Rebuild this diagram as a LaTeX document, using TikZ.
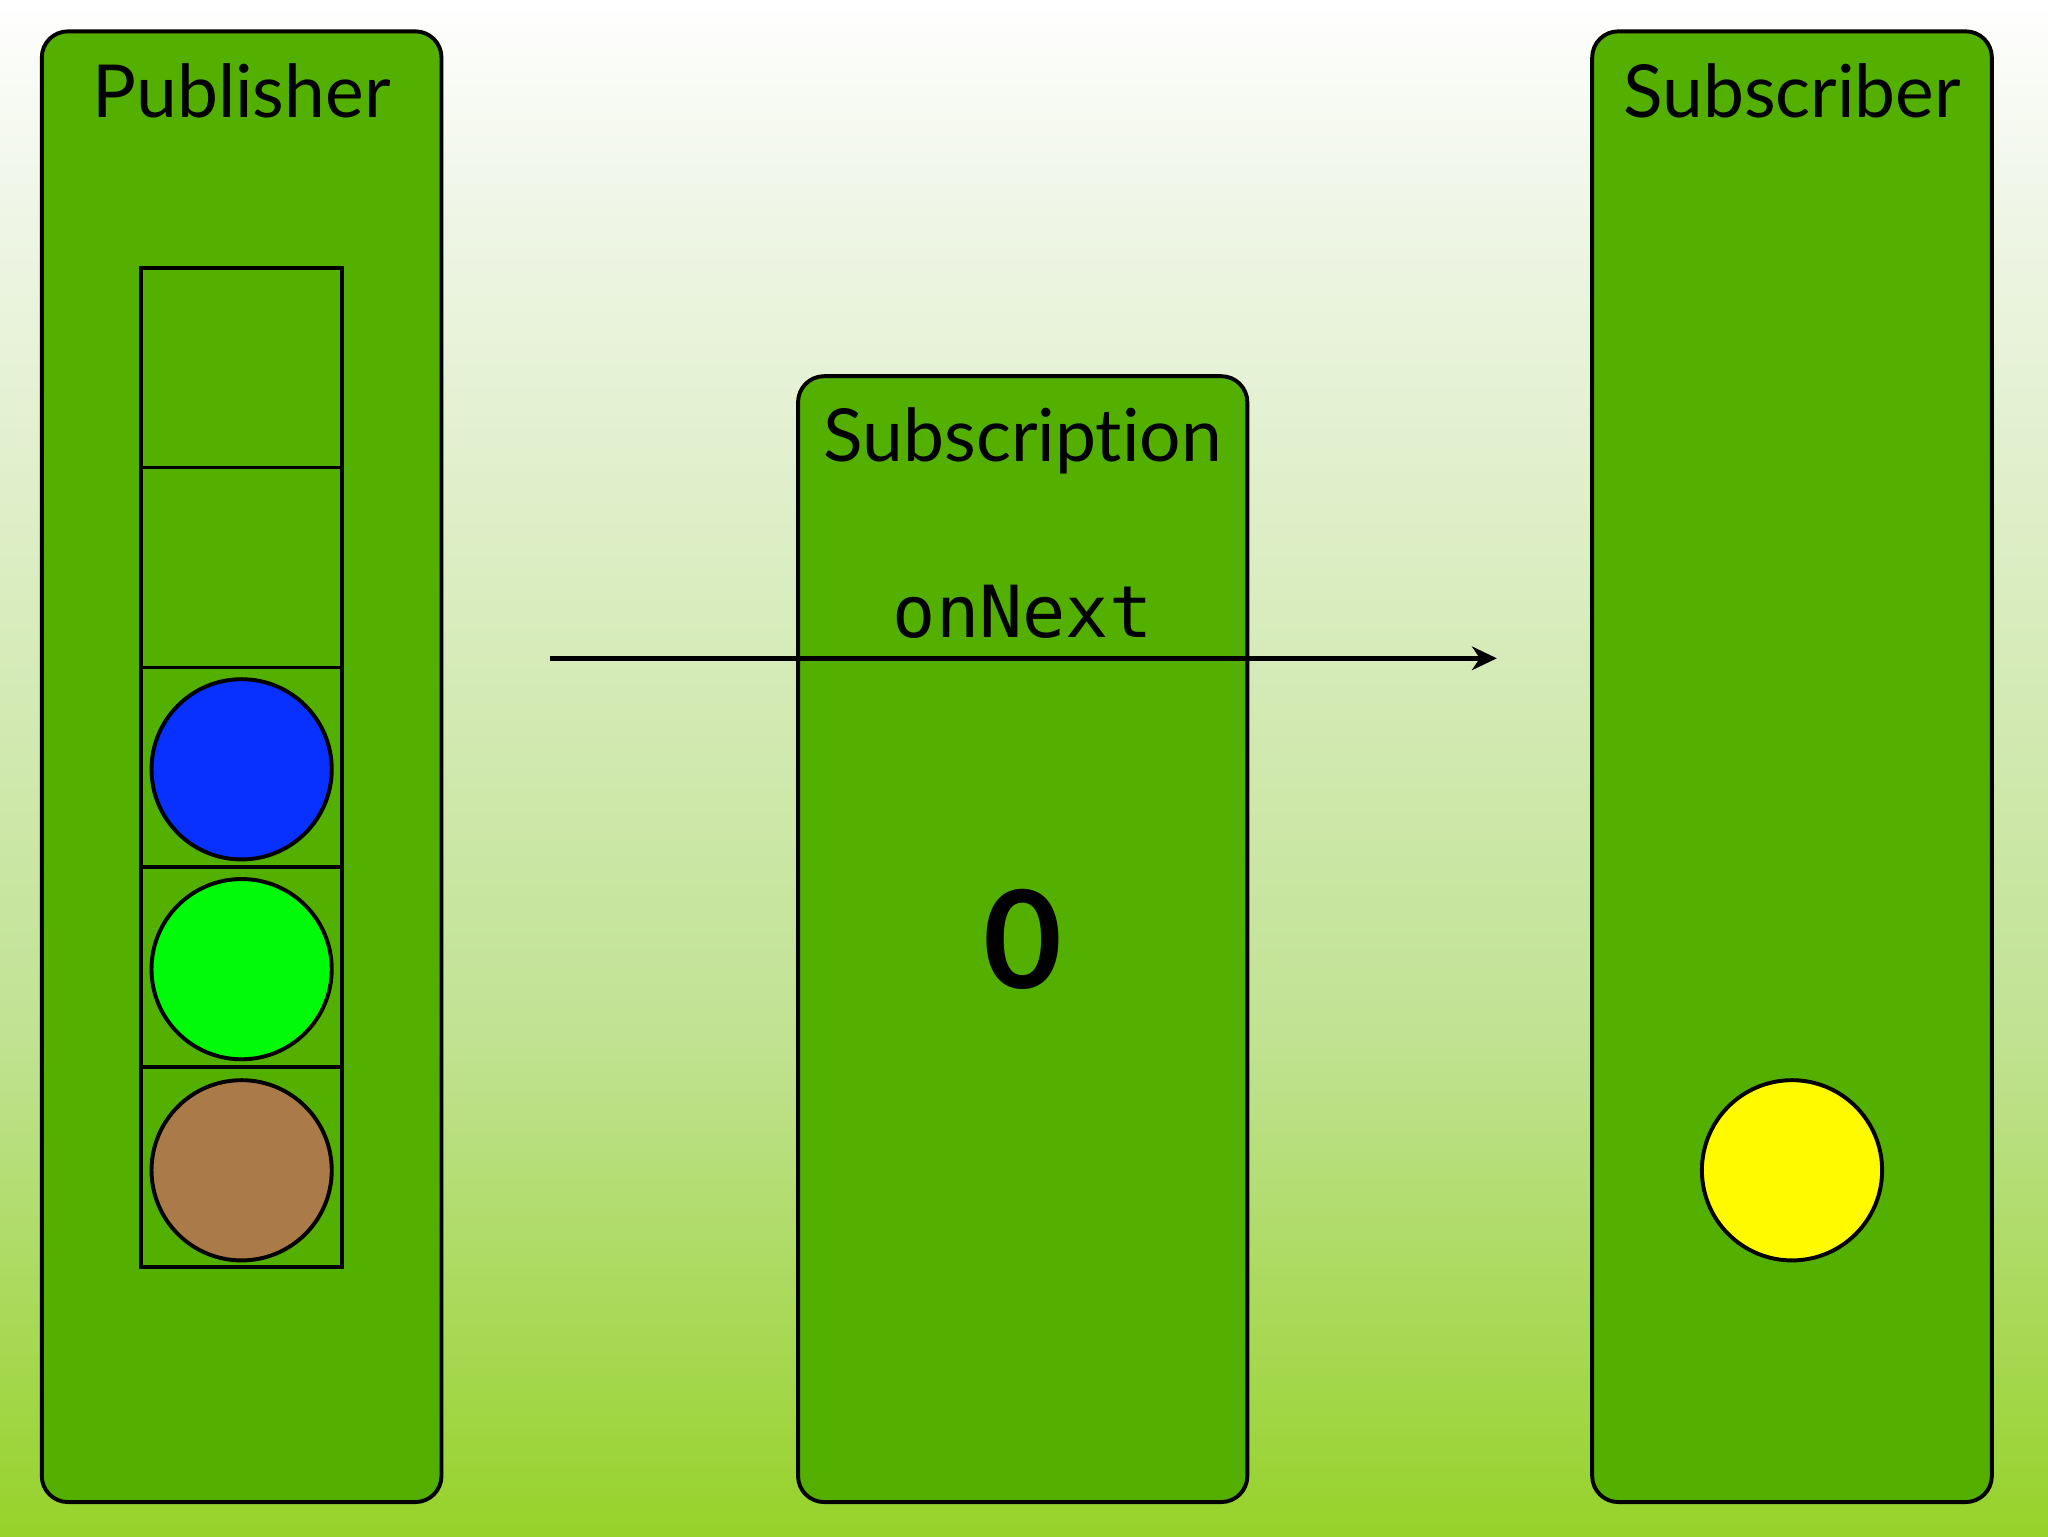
\documentclass[tikz,border=0pt]{standalone}
\usepackage{fontspec}
\setmainfont[Ligatures=NoCommon]{Lato}
\newfontfamily\monof{DejaVu Sans Mono}
\usetikzlibrary{arrows.meta}
\definecolor{boxgreen}{RGB}{84,176,0}
\definecolor{bgA}{RGB}{255,255,255}
\definecolor{bgB}{RGB}{240,246,232}
\definecolor{bgC}{RGB}{192,226,145}
\definecolor{bgD}{RGB}{150,210,42}
\definecolor{ballblue}{RGB}{8,48,255}
\definecolor{ballgreen}{RGB}{0,250,10}
\definecolor{ballbrown}{RGB}{170,122,72}
\definecolor{ballyellow}{RGB}{255,250,0}
\tikzset{
  panel/.style={draw=black, line width=3pt, fill=boxgreen, rounded corners=20pt, inner sep=0pt},
  cell/.style={draw=black, line width=2.8pt, minimum width=154pt, minimum height=153pt, inner sep=0pt},
  ball/.style={circle, draw=black, line width=3pt, minimum size=138pt, inner sep=0pt},
  title/.style={font=\fontsize{56}{58}\selectfont, anchor=base, inner sep=0pt},
  flow/.style={line width=3.5pt, -{Stealth[length=19pt, width=18pt, inset=6pt]}}
}
\begin{document}
\begin{tikzpicture}[x=1pt, y=-1pt]
\useasboundingbox (0,0) rectangle (1568,1176);
\shade[top color=bgA, bottom color=bgB] (0,0) rectangle (1568,150);
\shade[top color=bgB, bottom color=bgC] (0,149.5) rectangle (1568,800);
\shade[top color=bgC, bottom color=bgD] (0,799.5) rectangle (1568,1176);

\node[panel, minimum width=306pt, minimum height=1126pt] (pub) at (185,587) {};
\node[panel, minimum width=344pt, minimum height=862pt] (subn) at (783,719) {};
\node[panel, minimum width=306pt, minimum height=1126pt] (subr) at (1372,587) {};

\node[title] (pubt) at (185,90) {Publisher};
\node[title] (subnt) at (783,353) {Subscription};
\node[title] (subrt) at (1372,90) {Subscriber};

\node[cell] (c1) at (185,281.5) {};
\node[cell] (c2) at (185,434.5) {};
\node[cell] (c3) at (185,587.5) {};
\node[cell] (c4) at (185,740.5) {};
\node[cell] (c5) at (185,893.5) {};

\node[ball, fill=ballblue] (b1) at (185,589) {};
\node[ball, fill=ballgreen] (b2) at (185,742) {};
\node[ball, fill=ballbrown] (b3) at (185,896) {};
\node[ball, fill=ballyellow] (b4) at (1372,896) {};

\node[anchor=base, inner sep=0pt, font=\monof\fontsize{55}{57}\selectfont] (lbl) at (783,488) {onNext};
\node[anchor=base, inner sep=0pt, font=\bfseries\fontsize{104}{106}\selectfont] (cnt) at (783,757) {0};

\coordinate (from) at (421,504);
\coordinate (to) at (1146,504);
\draw[flow] (from) -- (to);
\end{tikzpicture}
\end{document}
